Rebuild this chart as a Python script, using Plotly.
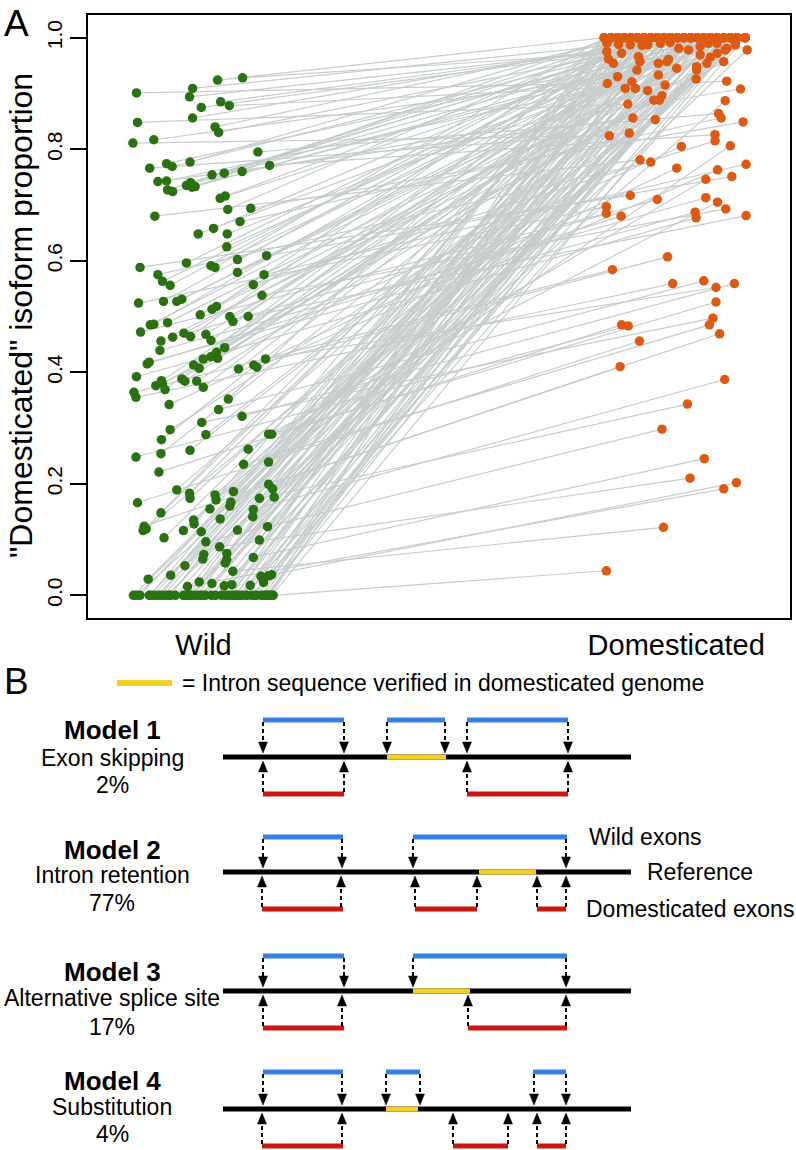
import plotly.graph_objects as go

W, H = 796, 1150

# ---------------- Panel A data ----------------
wild_x = [
    0.895, 1.005, 0.999, 1.054, 1.103, 0.897, 1.005, 1.022, 1.060, 1.077,
    1.049, 1.056, 0.888, 0.929, 0.921, 0.954, 0.965, 1.000, 0.937, 0.954,
    0.956, 0.966, 0.993, 1.001, 1.004, 1.010, 1.043, 1.067, 1.102, 1.133,
    1.156, 1.059, 1.069, 1.074, 1.119, 0.931, 1.098, 1.016, 1.046, 1.073,
    1.072, 0.902, 0.993, 1.041, 1.049, 1.093, 1.093, 1.150, 0.937, 0.946,
    0.961, 1.145, 1.124, 1.141, 0.899, 0.948, 0.974, 0.984, 1.020, 1.043,
    1.052, 1.078, 1.114, 1.084, 0.903, 0.922, 0.929, 0.956, 0.966, 0.988,
    1.001, 0.943, 0.941, 1.031, 1.041, 1.068, 1.052, 1.054, 1.041, 1.026,
    1.007, 1.018, 0.920, 0.916, 1.095, 1.125, 1.131, 1.148, 0.895, 0.933,
    0.944, 0.946, 0.951, 0.984, 0.990, 1.013, 1.026, 0.890, 0.894, 0.959,
    1.056, 1.075, 1.102, 1.023, 0.961, 0.944, 1.031, 0.894, 0.943, 0.939,
    1.000, 1.114, 1.105, 1.154, 1.160, 1.154, 1.154, 1.162, 1.165, 1.136,
    0.974, 0.999, 1.000, 1.049, 1.051, 0.897, 1.085, 1.080, 1.078, 1.039,
    1.059, 1.124, 1.123, 0.943, 0.910, 0.914, 0.908, 0.949, 0.987, 1.007,
    1.008, 1.022, 1.031, 1.093, 1.152, 1.136, 1.058, 1.027, 1.025, 1.072,
    1.072, 1.069, 1.124, 0.990, 1.084, 0.918, 0.962, 1.154, 1.144, 1.139,
    1.160, 0.995, 1.018, 1.043, 1.067, 1.082, 1.118,
    0.889, 0.895, 0.902, 0.922, 0.928, 0.935, 0.941, 0.948, 0.954, 0.961,
    0.971, 0.987, 0.993, 1.000, 1.006, 1.013, 1.020, 1.026, 1.042, 1.062,
    1.069, 1.075, 1.082, 1.088, 1.095, 1.101, 1.111, 1.121, 1.127, 1.144,
    1.150, 1.157, 1.163,
    1.160, 1.155, 1.150, 1.140, 1.130, 1.110, 1.090, 1.050, 1.030, 1.000,
    0.960, 0.920,
]
wild_y = [
    0.901, 0.909, 0.894, 0.924, 0.928, 0.848, 0.856, 0.875, 0.885, 0.878,
    0.840, 0.830, 0.811, 0.817, 0.766, 0.774, 0.769, 0.777, 0.742, 0.743,
    0.727, 0.724, 0.735, 0.740, 0.732, 0.733, 0.754, 0.757, 0.760, 0.795,
    0.771, 0.712, 0.716, 0.692, 0.694, 0.680, 0.670, 0.648, 0.658, 0.648,
    0.625, 0.588, 0.596, 0.591, 0.588, 0.602, 0.579, 0.609, 0.575, 0.563,
    0.556, 0.575, 0.557, 0.538, 0.524, 0.527, 0.527, 0.531, 0.503, 0.513,
    0.518, 0.500, 0.500, 0.491, 0.472, 0.485, 0.486, 0.489, 0.463, 0.470,
    0.464, 0.456, 0.439, 0.468, 0.457, 0.444, 0.436, 0.425, 0.428, 0.424,
    0.413, 0.407, 0.418, 0.415, 0.406, 0.413, 0.409, 0.424, 0.392, 0.376,
    0.385, 0.379, 0.369, 0.388, 0.384, 0.384, 0.373, 0.364, 0.355, 0.342,
    0.333, 0.352, 0.321, 0.310, 0.297, 0.279, 0.288, 0.248, 0.254, 0.221,
    0.260, 0.262, 0.235, 0.289, 0.289, 0.239, 0.199, 0.191, 0.176, 0.174,
    0.189, 0.183, 0.174, 0.180, 0.171, 0.166, 0.186, 0.167, 0.160, 0.155,
    0.137, 0.154, 0.141, 0.148, 0.124, 0.119, 0.116, 0.103, 0.116, 0.135,
    0.128, 0.114, 0.096, 0.117, 0.123, 0.099, 0.087, 0.073, 0.065, 0.075,
    0.064, 0.058, 0.068, 0.053, 0.043, 0.029, 0.036, 0.035, 0.023, 0.034,
    0.037, 0.016, 0.024, 0.021, 0.017, 0.019, 0.018,
    0, 0, 0, 0, 0, 0, 0, 0, 0, 0,
    0, 0, 0, 0, 0, 0, 0, 0, 0, 0,
    0, 0, 0, 0, 0, 0, 0, 0, 0, 0,
    0, 0, 0,
    0, 0, 0, 0, 0, 0, 0, 0, 0, 0,
    0, 0,
]
dom_x = [
    1.818, 1.840, 1.817, 1.812, 2.069, 1.858, 1.942, 2.046, 1.941, 2.052,
    1.877, 1.994, 1.822, 1.838, 1.861, 2.088, 1.846, 1.838, 1.868, 1.866,
    1.955, 1.918, 2.020, 1.903, 2.072, 1.825, 1.968, 1.864, 2.079, 2.036,
    2.029, 2.033, 1.916, 1.851, 2.084, 1.882, 2.041, 2.059, 1.929, 2.033,
    1.981, 1.863, 1.890, 2.007, 1.812, 1.942, 2.046, 2.062, 1.903, 1.830,
    1.877, 2.090, 2.029, 2.050, 1.816, 1.863, 1.938, 1.958, 1.994, 2.088,
    1.838, 2.000, 2.090, 1.955, 1.816, 2.020, 1.903, 1.954, 1.916, 2.072,
    1.825, 1.925, 2.011, 1.968, 1.864, 2.046, 2.033, 2.000, 1.918, 1.916,
    1.851, 2.059, 1.990, 1.845, 1.929, 1.936, 2.034, 2.031, 1.992, 1.963,
    1.981, 1.909, 1.890, 1.882, 2.007, 1.993, 1.897, 1.828, 1.946, 1.954,
    2.007, 1.812, 2.067, 2.025, 1.912, 1.942, 2.046, 1.859, 1.853, 1.846,
    1.931, 2.011, 2.018, 2.034, 2.031, 2.059, 2.038, 2.049, 2.049, 1.975,
    1.873, 1.877, 1.994, 2.013, 2.088, 1.881, 1.838, 1.922, 1.955, 1.992,
    2.020, 2.048, 2.092, 1.820, 1.843, 1.920, 1.903, 1.876, 1.935, 2.072,
    1.825, 1.977, 1.925, 2.033, 1.968, 1.864, 1.980, 2.033, 1.916, 1.851,
    2.059, 1.929, 2.008, 1.817, 1.928, 1.981, 1.890, 1.993, 2.007, 2.052,
    2.071, 2.046, 1.812, 1.942, 2.046, 1.877, 1.994, 1.897, 2.088, 1.886,
    1.838, 1.955, 2.020, 1.903, 1.879, 2.072, 1.825, 1.968, 1.864, 2.033,
    2.020, 1.916, 1.851, 2.059, 1.929, 1.981, 1.890, 2.016, 2.007, 1.812,
    1.942, 2.046, 1.877, 1.994, 2.088, 1.838, 1.955, 2.020, 1.903, 1.816,
    2.072, 1.825, 1.968, 1.864, 2.033, 1.916, 1.851, 2.059, 1.929, 1.981,
    1.890, 2.007,
]
dom_y = [
    0.918, 0.988, 0.975, 1, 0.987, 0.881, 1, 1, 0.991, 0.922,
    1, 1, 0.824, 0.930, 0.829, 1, 0.972, 1, 0.856, 0.921,
    1, 0.954, 1, 1, 1, 1, 1, 1, 0.908, 0.864,
    0.826, 1, 1, 1, 0.849, 0.781, 0.856, 1, 1, 0.990,
    1, 0.717, 1, 1, 1, 1, 1, 0.751, 0.777, 0.954,
    1, 0.773, 0.815, 0.693, 0.697, 0.987, 0.961, 0.981, 1, 1,
    1, 0.969, 0.681, 1, 0.685, 1, 1, 0.945, 0.710, 1,
    1, 0.896, 0.713, 1, 1, 0.957, 1, 0.984, 0.933, 1,
    1, 1, 0.687, 0.680, 1, 0.607, 0.763, 0.552, 0.677, 0.805,
    1, 0.888, 1, 0.957, 1, 0.942, 0.987, 0.584, 0.559, 0.766,
    0.564, 1, 0.559, 0.497, 0.853, 1, 1, 0.483, 0.909, 0.485,
    0.915, 0.746, 0.485, 0.705, 0.526, 0.806, 0.469, 0.887, 0.978, 0.343,
    0.909, 1, 1, 0.954, 1, 0.456, 1, 0.990, 1, 0.926,
    1, 0.387, 0.978, 0.962, 0.410, 0.888, 1, 0.942, 0.957, 1,
    1, 0.978, 0.298, 0.972, 1, 1, 0.210, 1, 1, 1,
    1, 1, 0.245, 0.990, 0.122, 1, 1, 0.948, 1, 0.981,
    0.202, 0.191, 1, 1, 1, 1, 1, 0.905, 1, 0.986,
    1, 1, 1, 1, 0.966, 1, 1, 1, 1, 1,
    0.965, 1, 1, 1, 1, 1, 1, 0.990, 1, 1,
    1, 1, 1, 1, 1, 1, 1, 1, 1, 0.044,
    1, 1, 1, 1, 1, 1, 1, 1, 1, 1,
    1, 1,
]
group_labels = ["Wild", "Domesticated"]
y_ticks = [0.0, 0.2, 0.4, 0.6, 0.8, 1.0]

# ---------------- Panel B content ----------------
model_names = ["Model 1", "Model 2", "Model 3", "Model 4"]
model_desc = ["Exon skipping", "Intron retention", "Alternative splice site", "Substitution"]
model_pct = ["2%", "77%", "17%", "4%"]
legend_text = "= Intron sequence verified in domesticated genome"
side_labels = ["Wild exons", "Reference", "Domesticated exons"]

# diagram geometry (pixel positions on the page)
ref_y = [757, 872, 991, 1109]
blue_y = [720, 837, 956, 1072]
red_y = [794, 909, 1028, 1146]
name_y = [730, 850, 972, 1081]
desc_y = [758, 875, 998, 1107]
pct_y = [785, 903, 1027, 1134]
ref_x = (223, 631)
yellow_seg = [[(387, 446)], [(479, 536)], [(413, 470)], [(386, 418)]]
blue_seg = [[(263, 344), (387, 445), (467, 568)], [(263, 343), (413, 567)],
            [(263, 344), (413, 567)], [(263, 343), (386, 420), (533, 566)]]
red_seg = [[(263, 344), (467, 568)], [(262, 343), (415, 477), (537, 566)],
           [(263, 344), (468, 567)], [(262, 343), (453, 508), (537, 566)]]
down_arrows = [[263, 344, 387, 445, 467, 568], [263, 342, 413, 566],
               [263, 344, 413, 566], [263, 342, 386, 420, 534, 566]]
up_arrows = [[263, 344, 467, 568], [262, 341, 415, 477, 537, 566],
             [263, 342, 468, 566], [262, 342, 453, 508, 537, 566]]

GREEN = "#2a7211"
ORANGE = "#de5a10"
GRAY = "#c6cccc"
BLUE = "#3480e6"
RED = "#cc1611"
YELLOW = "#f2cf22"
FONT = "Liberation Sans, Arial, Helvetica, sans-serif"


def px(x):
    return x / W


def py(y):
    return 1 - y / H


fig = go.Figure()

seg_x, seg_y = [], []
for wx, wy, dx, dy in zip(wild_x, wild_y, dom_x, dom_y):
    seg_x += [wx, dx, None]
    seg_y += [wy, dy, None]

fig.add_trace(go.Scatter(x=seg_x, y=seg_y, mode="lines",
                         line=dict(color=GRAY, width=1.2), hoverinfo="skip",
                         showlegend=False))
fig.add_trace(go.Scatter(x=wild_x, y=wild_y, mode="markers",
                         marker=dict(color=GREEN, size=9.5, line=dict(width=0)),
                         showlegend=False, name="Wild"))
fig.add_trace(go.Scatter(x=dom_x, y=dom_y, mode="markers",
                         marker=dict(color=ORANGE, size=9.5, line=dict(width=0)),
                         showlegend=False, name="Domesticated"))

fig.update_layout(
    width=W, height=H,
    margin=dict(l=0, r=0, t=0, b=0),
    paper_bgcolor="white", plot_bgcolor="white",
    font=dict(family=FONT, color="black"),
    xaxis=dict(domain=[px(88), px(790)], range=[0.8, 2.176],
               tickvals=[1.0265, 1.953], ticktext=group_labels,
               ticks="", showgrid=False, zeroline=False,
               showline=True, mirror=True, linewidth=2, linecolor="black",
               tickfont=dict(size=29, family=FONT, color="black")),
    yaxis=dict(domain=[py(618), py(15)], range=[-0.0407, 1.0407],
               tickvals=y_ticks, ticktext=["%.1f" % v for v in y_ticks],
               tickangle=-90, ticks="outside", ticklen=16, tickwidth=2,
               tickcolor="black", showgrid=False, zeroline=False,
               showline=True, mirror=True, linewidth=2, linecolor="black",
               tickfont=dict(size=21, family=FONT, color="black")),
)

ann = []
ann.append(dict(x=px(21), y=py(316), xref="paper", yref="paper",
                text='"Domesticated" isoform proportion', textangle=-90,
                showarrow=False, font=dict(size=32, family=FONT, color="black"),
                xanchor="center", yanchor="middle"))
ann.append(dict(x=px(16), y=py(23), xref="paper", yref="paper", text="A",
                showarrow=False, font=dict(size=37, family=FONT, color="black"),
                xanchor="center", yanchor="middle"))
ann.append(dict(x=px(16), y=py(681), xref="paper", yref="paper", text="B",
                showarrow=False, font=dict(size=37, family=FONT, color="black"),
                xanchor="center", yanchor="middle"))
ann.append(dict(x=px(180), y=py(683), xref="paper", yref="paper", text=legend_text,
                showarrow=False, font=dict(size=23, family=FONT, color="black"),
                xanchor="left", yanchor="middle"))
for lab, xx, yy in zip(side_labels, [587, 645, 584], [837, 872, 909]):
    ann.append(dict(x=px(xx), y=py(yy), xref="paper", yref="paper", text=lab,
                    showarrow=False, font=dict(size=23, family=FONT, color="black"),
                    xanchor="left", yanchor="middle"))
for i in range(4):
    ann.append(dict(x=px(112), y=py(name_y[i]), xref="paper", yref="paper",
                    text="<b>%s</b>" % model_names[i], showarrow=False,
                    font=dict(size=26, family=FONT, color="black"),
                    xanchor="center", yanchor="middle"))
    ann.append(dict(x=px(112), y=py(desc_y[i]), xref="paper", yref="paper",
                    text=model_desc[i], showarrow=False,
                    font=dict(size=23, family=FONT, color="black"),
                    xanchor="center", yanchor="middle"))
    ann.append(dict(x=px(112), y=py(pct_y[i]), xref="paper", yref="paper",
                    text=model_pct[i], showarrow=False,
                    font=dict(size=23, family=FONT, color="black"),
                    xanchor="center", yanchor="middle"))

shapes = []


def hline(x0, x1, y, color, width):
    shapes.append(dict(type="line", xref="paper", yref="paper",
                       x0=px(x0), x1=px(x1), y0=py(y), y1=py(y),
                       line=dict(color=color, width=width)))


def vdash(x, y0, y1):
    shapes.append(dict(type="line", xref="paper", yref="paper",
                       x0=px(x), x1=px(x), y0=py(y0), y1=py(y1),
                       line=dict(color="black", width=2, dash="4px,3px")))


def head(x, base, tip):
    path = "M %f,%f L %f,%f L %f,%f Z" % (px(x - 4.5), py(base), px(x + 4.5), py(base),
                                           px(x), py(tip))
    shapes.append(dict(type="path", xref="paper", yref="paper", path=path,
                       fillcolor="black", line=dict(color="black", width=0.5)))


# legend swatch
hline(117, 172, 683, YELLOW, 6)

for i in range(4):
    R = ref_y[i]
    hline(ref_x[0], ref_x[1], R, "black", 5)
    for a, b in yellow_seg[i]:
        hline(a, b, R, YELLOW, 5)
    for a, b in blue_seg[i]:
        hline(a, b, blue_y[i], BLUE, 5)
    for a, b in red_seg[i]:
        hline(a, b, red_y[i], RED, 5)
    for x in down_arrows[i]:
        vdash(x, blue_y[i] + 2, R - 14)
        head(x, R - 15, R - 4)
    for x in up_arrows[i]:
        vdash(x, red_y[i] - 2, R + 14)
        head(x, R + 15, R + 4)

fig.update_layout(annotations=ann, shapes=shapes)
fig.write_html("out.html",
               config={"displayModeBar": False},
               post_script="document.body.style.margin='0';"
                           "document.body.style.overflow='hidden';")
